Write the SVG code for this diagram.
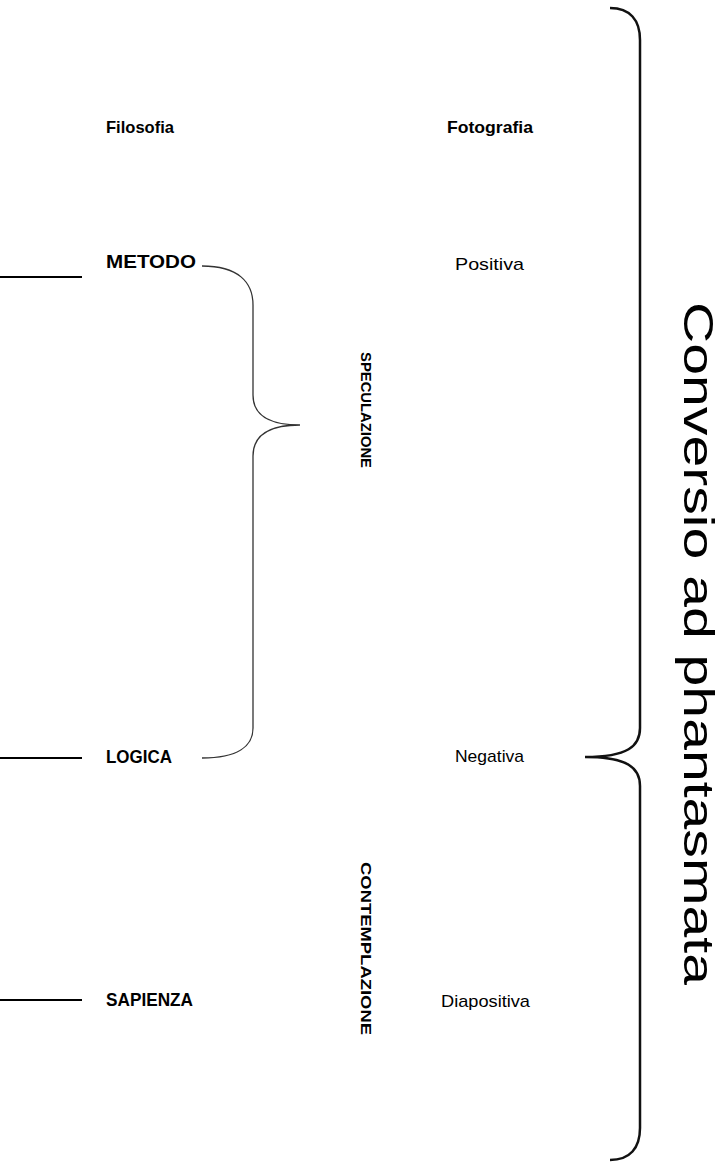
<svg xmlns="http://www.w3.org/2000/svg" width="722" height="1166" viewBox="0 0 722 1166">
<style>
.b{font-family:"Liberation Sans",Arial,sans-serif;font-weight:bold;fill:#000}
.r{font-family:"Liberation Sans",Arial,sans-serif;fill:#000}
.ln{stroke:#000;stroke-width:2;fill:none}
.br{stroke:#333;stroke-width:1.3;fill:none}
.bb{stroke:#111;stroke-width:2.5;fill:none}
</style>
<rect width="722" height="1166" fill="#fff"/>
<g id="head-filosofia"><text class="b" x="106" y="133" font-size="17" textLength="68" lengthAdjust="spacingAndGlyphs">Filosofia</text></g>
<g id="head-fotografia"><text class="b" x="447" y="133" font-size="17" textLength="86" lengthAdjust="spacingAndGlyphs">Fotografia</text></g>
<g id="metodo"><text class="b" x="106" y="268" font-size="18" textLength="90" lengthAdjust="spacingAndGlyphs">METODO</text></g>
<g id="positiva"><text class="r" x="455" y="270" font-size="17" textLength="69" lengthAdjust="spacingAndGlyphs">Positiva</text></g>
<g id="logica"><text class="b" x="106" y="763" font-size="18" textLength="66" lengthAdjust="spacingAndGlyphs">LOGICA</text></g>
<g id="negativa"><text class="r" x="455" y="762" font-size="17" textLength="69" lengthAdjust="spacingAndGlyphs">Negativa</text></g>
<g id="sapienza"><text class="b" x="106" y="1006" font-size="18" textLength="87" lengthAdjust="spacingAndGlyphs">SAPIENZA</text></g>
<g id="diapositiva"><text class="r" x="441" y="1007" font-size="17" textLength="89" lengthAdjust="spacingAndGlyphs">Diapositiva</text></g>
<g id="speculazione"><text class="b" font-size="15" textLength="116" lengthAdjust="spacingAndGlyphs" transform="translate(361,352) rotate(90)">SPECULAZIONE</text></g>
<g id="contemplazione"><text class="b" font-size="15" textLength="173" lengthAdjust="spacingAndGlyphs" transform="translate(361,862) rotate(90)">CONTEMPLAZIONE</text></g>
<g id="conversio"><text class="r" font-size="42" textLength="683" lengthAdjust="spacingAndGlyphs" transform="translate(684,302) rotate(90)">Conversio ad phantasmata</text></g>
<g id="connectors">
<path class="ln" d="M0,277 H82"/>
<path class="ln" d="M0,758 H82"/>
<path class="ln" d="M0,1000 H82"/>
<path class="br" d="M202,266 C238,266 253,282 253,305 L253,395 C253,414 268,425 300,425 C268,425 253,436 253,456 L253,728 C253,746 238,758 202,758"/>
<path class="bb" d="M610,8 C630,8 640,20 640,40 L640,728 C640,746 628,757 585,757 C628,757 640,768 640,786 L640,1128 C640,1148 630,1160 610,1160"/>
</g>
</svg>
